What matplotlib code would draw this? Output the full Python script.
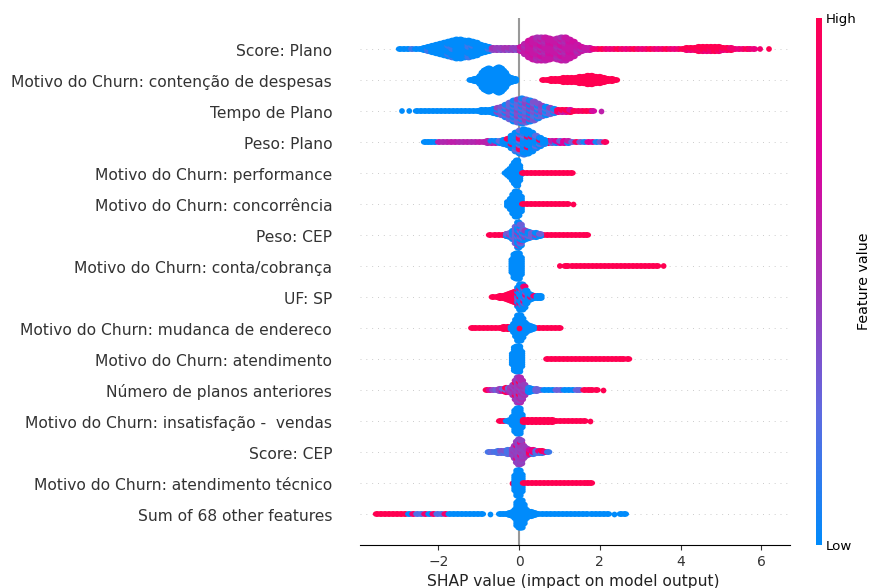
import matplotlib
matplotlib.use("Agg")
import matplotlib.pyplot as plt
from matplotlib.cm import ScalarMappable
from matplotlib.colors import LinearSegmentedColormap, Normalize
from matplotlib.markers import MarkerStyle
from matplotlib.path import Path
from matplotlib.transforms import Affine2D, ScaledTranslation

features = ["Score: Plano", "Motivo do Churn: contenção de despesas", "Tempo de Plano", "Peso: Plano",
            "Motivo do Churn: performance", "Motivo do Churn: concorrência", "Peso: CEP",
            "Motivo do Churn: conta/cobrança", "UF: SP", "Motivo do Churn: mudanca de endereco",
            "Motivo do Churn: atendimento", "Número de planos anteriores",
            "Motivo do Churn: insatisfação -  vendas", "Score: CEP",
            "Motivo do Churn: atendimento técnico", "Sum of 68 other features"]

# swarm: bin position, dots stacked in the bin, feature values of those dots
plano_low_x = [-2.95, -2.85, -2.75, -2.65, -2.55, -2.45, -2.35, -2.25, -2.15, -2.05, -1.95, -1.85, -1.75, -1.65, -1.55, -1.45, -1.35, -1.25, -1.15, -1.05, -0.95, -0.85, -0.75]
plano_low_n = [1, 1, 1, 1, 1, 1, 2, 3, 4, 5, 6, 7, 8, 9, 10, 10, 9, 9, 8, 7, 5, 4, 3]
plano_low_c = [0, 0, 0, 0, 0, 0, 0, 0, 0, 0.16]
plano_mid_x = [-0.65, -0.55, -0.45, -0.35, -0.25, -0.15, -0.05]
plano_mid_n = [2, 2, 2, 2, 2, 2, 2]
plano_mid_c = [0.38, 0.45, 0.3, 0.5]
plano_high_x = [0.05, 0.15, 0.25, 0.35, 0.45, 0.55, 0.65, 0.75, 0.85, 0.95, 1.05, 1.15, 1.25, 1.35, 1.45, 1.55, 1.65, 1.75]
plano_high_n = [3, 6, 9, 11, 12, 12, 12, 11, 10, 11, 12, 12, 10, 8, 5, 3, 2, 2]
plano_high_c = [0.64, 0.58, 0.68, 0.52, 0.64]
plano_tail_x = [1.85, 1.95, 2.05, 2.15, 2.25, 2.35, 2.45, 2.55, 2.65, 2.75, 2.85, 2.95, 3.05, 3.15, 3.25, 3.35, 3.45, 3.55, 3.65, 3.75, 3.85, 3.95, 4.05, 4.15, 4.25, 4.35, 4.45, 4.55, 4.65, 4.75, 4.85, 4.95, 5.05, 5.15, 5.25, 5.35, 5.45, 5.55, 5.65, 5.72, 5.82, 5.97, 6.19]
plano_tail_n = [1, 1, 1, 1, 1, 1, 1, 1, 1, 1, 1, 1, 1, 1, 1, 1, 1, 1, 1, 1, 1, 1, 1, 2, 2, 2, 3, 3, 3, 3, 3, 3, 2, 2, 2, 1, 1, 1, 1, 1, 1, 1, 1]
plano_tail_c = [0.85, 0.9, 0.95, 1, 1, 1, 0.94, 1]

despesas_low_x = [-1.2, -1.1, -1.0, -0.95, -0.9, -0.85, -0.8, -0.75, -0.7, -0.65, -0.6, -0.55, -0.5, -0.45, -0.4, -0.35, -0.3, -0.2, -0.1]
despesas_low_n = [1, 2, 3, 5, 8, 10, 11, 12, 11, 10, 10, 12, 13, 12, 10, 8, 5, 3, 2]
despesas_high_x = [0.6, 0.7, 0.8, 0.9, 1.0, 1.1, 1.2, 1.3, 1.4, 1.5, 1.6, 1.7, 1.8, 1.9, 2.0, 2.1, 2.2, 2.3, 2.4]
despesas_high_n = [1, 1, 2, 2, 2, 3, 3, 3, 3, 4, 4, 5, 5, 4, 4, 3, 2, 2, 1]

tempo_low_x = [-2.9, -2.72, -2.53, -2.43, -2.33, -2.23, -2.13, -2.03, -1.93, -1.83, -1.73, -1.63, -1.53, -1.43, -1.33, -1.23, -1.13, -1.03, -0.93, -0.83, -0.73, -0.63]
tempo_low_n = [1, 1, 1, 1, 1, 1, 1, 1, 1, 1, 1, 1, 1, 1, 1, 1, 1, 1, 2, 2, 2, 3]
tempo_mid_x = [-0.53, -0.43, -0.33, -0.23, -0.13, -0.03, 0.07, 0.17, 0.27, 0.37, 0.47, 0.57, 0.67, 0.77, 0.87]
tempo_mid_n = [4, 5, 7, 9, 11, 12, 13, 12, 11, 10, 8, 6, 5, 4, 3]
tempo_mid_c = [0, 0.3, 0.12, 0.42, 0.05, 0.36, 0.72, 0.2]
tempo_high_x = [0.97, 1.07, 1.17, 1.27, 1.37, 1.47, 1.57, 1.67, 1.77, 1.83, 2.03]
tempo_high_n = [2, 2, 2, 2, 1, 1, 1, 1, 1, 1, 1]
tempo_high_c = [0.85, 0.6, 1, 0.95, 0.7, 1, 0.95, 1, 1, 1, 0]

peso_low_x = [-2.33, -2.25, -2.17, -2.08]
peso_low_n = [1, 1, 1, 1]
peso_left_x = [-1.98, -1.88, -1.78, -1.68, -1.58, -1.48, -1.38, -1.28, -1.18, -1.08, -0.98, -0.88, -0.78, -0.68, -0.58]
peso_left_n = [1, 1, 1, 1, 1, 1, 1, 1, 1, 1, 1, 1, 2, 2, 2]
peso_left_c = [0.58, 0.55, 0.6, 0.02, 0.56, 0.58, 0.52]
peso_mid_x = [-0.48, -0.38, -0.28, -0.18, -0.08, 0.02, 0.12, 0.22, 0.32, 0.42, 0.52, 0.62]
peso_mid_n = [2, 3, 4, 7, 10, 12, 13, 12, 10, 7, 5, 3]
peso_mid_c = [0, 0.06, 0, 0.25, 0, 0, 0.1, 0.95, 0, 0]
peso_high_x = [0.72, 0.82, 0.92, 1.02, 1.12, 1.22, 1.32, 1.42, 1.52, 1.62, 1.72, 1.82, 1.92, 2.02, 2.13]
peso_high_n = [2, 2, 2, 2, 2, 2, 1, 1, 1, 1, 1, 1, 1, 1, 1]
peso_high_c = [0.95, 0.3, 0.75, 1, 0.05, 0.6, 1]

performance_low_x = [-0.33, -0.27, -0.21, -0.15, -0.1, -0.05, 0.0, 0.05]
performance_low_n = [1, 3, 5, 8, 11, 13, 8, 2]
performance_high_x = [0.1, 0.2, 0.3, 0.4, 0.5, 0.6, 0.7, 0.8, 0.9, 1.0, 1.1, 1.2, 1.3]
performance_high_n = [1, 1, 1, 1, 1, 1, 1, 1, 1, 1, 1, 1, 1]

concorrencia_low_x = [-0.27, -0.2, -0.14, -0.08, -0.02, 0.04]
concorrencia_low_n = [3, 6, 10, 13, 12, 8]
concorrencia_high_x = [0.1, 0.2, 0.3, 0.4, 0.5, 0.6, 0.7, 0.8, 0.9, 1.0, 1.1, 1.2, 1.34]
concorrencia_high_n = [1, 1, 1, 1, 1, 1, 1, 1, 1, 1, 1, 1, 1]

cep_red_x = [-0.72, -0.6, -0.5, -0.4, -0.3, -0.2, 0.3, 0.4, 0.5, 0.6, 0.7, 0.8, 0.9, 1.0, 1.1, 1.2, 1.3, 1.4, 1.5, 1.6, 1.68]
cep_red_n = [1, 1, 1, 1, 2, 2, 2, 2, 1, 1, 1, 1, 1, 1, 1, 1, 1, 1, 1, 1, 1]
cep_mid_x = [-0.3, -0.22, -0.15, -0.08, -0.02, 0.04, 0.1, 0.16, 0.24, 0.32, 0.42, 0.52]
cep_mid_n = [2, 3, 5, 9, 13, 11, 6, 5, 4, 3, 3, 2]
cep_mid_c = [0, 0, 0.05, 0.3, 0, 0.45]

conta_low_x = [-0.16, -0.11, -0.06, -0.01, 0.04]
conta_low_n = [7, 12, 13, 13, 9]
conta_high_x = [1.01, 1.15, 1.2, 1.32, 1.42, 1.52, 1.62, 1.72, 1.82, 1.92, 2.02, 2.12, 2.22, 2.32, 2.42, 2.52, 2.62, 2.72, 2.82, 2.92, 3.02, 3.12, 3.22, 3.32, 3.42, 3.58]
conta_high_n = [1, 1, 1, 1, 1, 1, 1, 1, 1, 1, 1, 1, 1, 1, 1, 1, 1, 1, 1, 1, 1, 1, 1, 1, 1, 1]

sp_red_x = [-0.65, -0.55, -0.47, -0.39, -0.31, -0.24, -0.17, -0.1, -0.04]
sp_red_n = [1, 1, 2, 2, 3, 4, 5, 6, 6]
sp_low_x = [-0.02, 0.03, 0.08, 0.13, 0.18, 0.24, 0.3, 0.38, 0.46, 0.53]
sp_low_n = [10, 13, 13, 11, 7, 4, 3, 2, 2, 2]
sp_low_c = [0, 0, 0, 0.9, 0, 0, 0.35]

mudanca_red_x = [-1.16, -1.08, -0.98, -0.88, -0.78, -0.68, -0.58, -0.48, -0.38, -0.28, -0.18, 0.3, 0.4, 0.5, 0.6, 0.7, 0.8, 0.9, 1.0]
mudanca_red_n = [1, 1, 1, 1, 1, 1, 1, 1, 2, 2, 2, 2, 1, 1, 1, 1, 1, 1, 1]
mudanca_low_x = [-0.18, -0.12, -0.07, -0.02, 0.03, 0.08, 0.14, 0.2, 0.27, 0.34]
mudanca_low_n = [2, 5, 9, 13, 13, 10, 6, 4, 3, 2]
mudanca_dot_x = [-0.01]
mudanca_dot_n = [1]

atendimento_low_x = [-0.15, -0.1, -0.05, 0.0, 0.05]
atendimento_low_n = [6, 12, 13, 13, 8]
atendimento_high_x = [0.7, 0.8, 0.9, 1.0, 1.1, 1.2, 1.3, 1.4, 1.5, 1.6, 1.7, 1.8, 1.9, 2.0, 2.1, 2.2, 2.3, 2.4, 2.5, 2.58, 2.7]
atendimento_high_n = [1, 1, 1, 1, 1, 1, 1, 1, 1, 1, 1, 1, 1, 1, 1, 1, 1, 1, 1, 1, 1]

planos_left_x = [-0.8, -0.72, -0.64, -0.56, -0.48, -0.4, -0.32, -0.25]
planos_left_n = [1, 1, 1, 1, 2, 2, 3, 3]
planos_left_c = [1, 0.7, 0.45, 0.3, 0.4, 0.45]
planos_mid_x = [-0.2, -0.14, -0.08, -0.03, 0.02, 0.07, 0.13, 0.19]
planos_mid_n = [3, 6, 10, 13, 13, 10, 6, 3]
planos_mid_c = [0.5, 0.55, 1, 0.45, 0.55, 0.42]
planos_right_x = [0.25, 0.33, 0.43, 0.53, 0.63, 0.73, 0.83, 0.93, 1.03, 1.13, 1.23, 1.33, 1.43, 1.5]
planos_right_n = [3, 2, 2, 1, 1, 1, 1, 1, 1, 1, 1, 1, 1, 1]
planos_right_c = [0, 0, 0.1, 0, 0.3]
planos_red_x = [1.62, 1.72, 1.8, 1.92, 2.08]
planos_red_n = [1, 1, 1, 1, 1]

vendas_red_left_x = [-0.47, -0.38]
vendas_red_left_n = [1, 1]
vendas_low_x = [-0.3, -0.22, -0.15, -0.09, -0.04, 0.01, 0.06]
vendas_low_n = [1, 2, 5, 11, 13, 13, 7]
vendas_high_x = [0.12, 0.22, 0.32, 0.42, 0.52, 0.62, 0.72, 0.82, 0.92, 1.02, 1.12, 1.22, 1.32, 1.42, 1.52, 1.62, 1.75]
vendas_high_n = [2, 2, 2, 2, 2, 2, 2, 2, 1, 1, 1, 1, 1, 1, 1, 1, 1]

score_left_x = [-0.75, -0.68, -0.6, -0.52, -0.44, -0.36, -0.28, -0.2]
score_left_n = [1, 1, 1, 2, 2, 2, 3, 3]
score_left_c = [0.18, 0.25, 0.3, 0.35, 0.2]
score_mid_x = [-0.15, -0.1, -0.05, 0.0, 0.05, 0.1, 0.15, 0.2]
score_mid_n = [4, 7, 11, 13, 12, 7, 5, 4]
score_mid_c = [0.45, 0.48, 0.85, 0.42, 0.46, 0.42]
score_right_x = [0.27, 0.35, 0.43, 0.5, 0.57, 0.65, 0.72]
score_right_n = [3, 3, 2, 2, 2, 1, 1]
score_right_c = [0.85, 0.15, 0.7, 1, 0.2]

tecnico_red_left_x = [-0.18]
tecnico_red_left_n = [1]
tecnico_low_x = [-0.09, -0.04, 0.01, 0.06]
tecnico_low_n = [8, 13, 13, 9]
tecnico_high_x = [0.12, 0.22, 0.32, 0.42, 0.52, 0.62, 0.72, 0.82, 0.92, 1.02, 1.12, 1.22, 1.32, 1.42, 1.52, 1.62, 1.7, 1.78]
tecnico_high_n = [1, 1, 1, 1, 1, 1, 1, 1, 1, 1, 1, 1, 1, 1, 1, 1, 1, 1]

others_red_x = [-3.52, -3.42, -3.32, -3.22, -3.12, -3.02, -2.92, -2.82]
others_red_n = [1, 1, 1, 1, 1, 1, 1, 1]
others_mix_x = [-2.72, -2.62, -2.52, -2.42, -2.32, -2.22, -2.12, -2.02, -1.92, -1.82]
others_mix_n = [1, 1, 1, 1, 1, 1, 1, 1, 1, 1]
others_mix_c = [0, 0.9, 0.05, 1, 0.2]
others_low_x = [-1.72, -1.62, -1.52, -1.42, -1.32, -1.22, -1.12, -1.02, -0.92, -0.73, -0.47, -0.39, -0.31, -0.23]
others_low_n = [1, 1, 1, 1, 1, 1, 1, 1, 1, 1, 1, 1, 1, 2]
others_core_x = [-0.15, -0.09, -0.04, 0.01, 0.06, 0.11, 0.17, 0.23, 0.3, 0.38]
others_core_n = [3, 5, 12, 14, 14, 10, 5, 3, 3, 2]
others_tail_x = [0.48, 0.58, 0.68, 0.78, 0.88, 0.98, 1.08, 1.18, 1.28, 1.38, 1.48, 1.58, 1.68, 1.8, 1.9, 2.0, 2.1, 2.2, 2.35, 2.52, 2.62]
others_tail_n = [1, 1, 1, 1, 1, 1, 1, 1, 1, 1, 1, 1, 1, 1, 1, 1, 1, 1, 1, 1, 1]

BLUE = [0]
RED = [1]
rows = [
    [(plano_low_x, plano_low_n, plano_low_c), (plano_mid_x, plano_mid_n, plano_mid_c),
     (plano_high_x, plano_high_n, plano_high_c), (plano_tail_x, plano_tail_n, plano_tail_c)],
    [(despesas_low_x, despesas_low_n, BLUE), (despesas_high_x, despesas_high_n, RED)],
    [(tempo_low_x, tempo_low_n, BLUE), (tempo_mid_x, tempo_mid_n, tempo_mid_c), (tempo_high_x, tempo_high_n, tempo_high_c)],
    [(peso_low_x, peso_low_n, BLUE), (peso_left_x, peso_left_n, peso_left_c), (peso_high_x, peso_high_n, peso_high_c),
     (peso_mid_x, peso_mid_n, peso_mid_c)],
    [(performance_low_x, performance_low_n, BLUE), (performance_high_x, performance_high_n, RED)],
    [(concorrencia_low_x, concorrencia_low_n, BLUE), (concorrencia_high_x, concorrencia_high_n, RED)],
    [(cep_red_x, cep_red_n, RED), (cep_mid_x, cep_mid_n, cep_mid_c)],
    [(conta_low_x, conta_low_n, BLUE), (conta_high_x, conta_high_n, RED)],
    [(sp_red_x, sp_red_n, RED), (sp_low_x, sp_low_n, sp_low_c)],
    [(mudanca_red_x, mudanca_red_n, RED), (mudanca_low_x, mudanca_low_n, BLUE), (mudanca_dot_x, mudanca_dot_n, RED)],
    [(atendimento_low_x, atendimento_low_n, BLUE), (atendimento_high_x, atendimento_high_n, RED)],
    [(planos_left_x, planos_left_n, planos_left_c), (planos_mid_x, planos_mid_n, planos_mid_c),
     (planos_right_x, planos_right_n, planos_right_c), (planos_red_x, planos_red_n, RED)],
    [(vendas_red_left_x, vendas_red_left_n, RED), (vendas_low_x, vendas_low_n, BLUE), (vendas_high_x, vendas_high_n, RED)],
    [(score_left_x, score_left_n, score_left_c), (score_mid_x, score_mid_n, score_mid_c), (score_right_x, score_right_n, score_right_c)],
    [(tecnico_red_left_x, tecnico_red_left_n, RED), (tecnico_low_x, tecnico_low_n, BLUE), (tecnico_high_x, tecnico_high_n, RED)],
    [(others_red_x, others_red_n, RED), (others_mix_x, others_mix_n, others_mix_c), (others_low_x, others_low_n, BLUE),
     (others_tail_x, others_tail_n, BLUE), (others_core_x, others_core_n, BLUE)],
]

cmap = LinearSegmentedColormap.from_list("shap_red_blue", ["#008bfb", "#5f6be0", "#a532b4", "#e0009a", "#ff0051"])
W, H = 870, 588
ROW_PX = 31
STACK = 2.1 / ROW_PX  # vertical gap of the dots, in row units

# wide marker so that a run of bins reads as a solid band, round one for lone dots
wide = MarkerStyle(Path.unit_circle().transformed(Affine2D().scale(1.4, 1)))

fig = plt.figure(figsize=(W / 100, H / 100), dpi=100)
ax = fig.add_axes([360 / W, 1 - 545 / H, 430 / W, 527 / H])

ax.axvline(0, color="#999999", lw=1.5, zorder=1)
for i, segments in enumerate(rows):
    y0 = len(rows) - 1 - i
    ax.axhline(y0, color="#cccccc", lw=0.7, dashes=(1, 5), zorder=0)
    for x, n, c in segments:
        run = {"x": [], "y": [], "c": []}
        lone = {"x": [], "y": [], "c": []}
        for b in range(len(x)):
            gaps = [abs(x[b] - x[o]) for o in range(len(x)) if o != b]
            group = run if gaps and min(gaps) < 0.125 else lone
            for j in range(n[b]):
                group["x"].append(x[b])
                group["y"].append(y0 + (j - (n[b] - 1) / 2) * STACK)
                group["c"].append(c[(b * b + 3 * j * j + b * j) % len(c)])
        ax.scatter(run["x"], run["y"], c=run["c"], cmap=cmap, vmin=0, vmax=1, s=36, marker=wide, linewidths=0, zorder=3)
        ax.scatter(lone["x"], lone["y"], c=lone["c"], cmap=cmap, vmin=0, vmax=1, s=17, linewidths=0, zorder=3)

ax.set_xlim(-3.94, 6.71)
ax.set_ylim(-1, len(rows))
ax.set_yticks(range(len(rows)))
ax.set_yticklabels(features[::-1], fontsize=11.2, color="#333333")
ax.set_xticks([-2, 0, 2, 4, 6])
ax.tick_params(axis="y", length=0, pad=20)
ax.tick_params(axis="x", labelsize=10, labelcolor="#333333", color="#333333")
ax.set_xlabel("SHAP value (impact on model output)", fontsize=11.15, color="#222222", labelpad=3.5, x=0.4965)
for side in ["top", "left", "right"]:
    ax.spines[side].set_visible(False)
for label in ax.get_yticklabels():
    label.set_transform(label.get_transform() + ScaledTranslation(0, -0.01, fig.dpi_scale_trans))

cax = fig.add_axes([816 / W, 1 - 545 / H, 6 / W, 527 / H])
cb = fig.colorbar(ScalarMappable(Normalize(0, 1), cmap), cax=cax, ticks=[0, 1])
cb.set_ticklabels(["Low", "High"], fontsize=9.6)
cb.ax.tick_params(length=0, pad=3)
cb.outline.set_visible(False)
cb.set_label("Feature value", fontsize=10.3, labelpad=0)

fig.savefig("out.png", dpi=100)
